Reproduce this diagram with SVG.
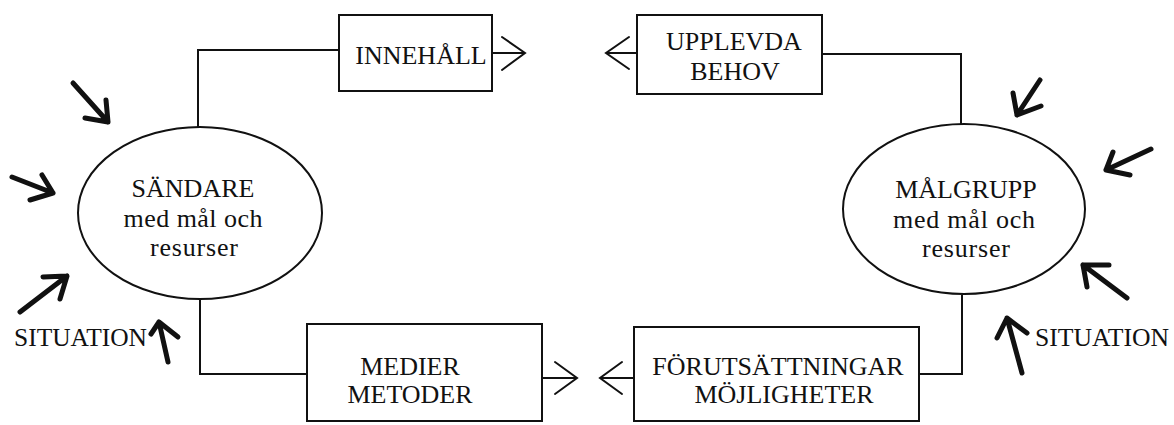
<svg xmlns="http://www.w3.org/2000/svg" width="1174" height="425" viewBox="0 0 1174 425">
<style>
.box{fill:#fff;stroke:#111;stroke-width:2}
.el{fill:#fff;stroke:#111;stroke-width:2}
.con{fill:none;stroke:#111;stroke-width:2}
.chev{fill:none;stroke:#111;stroke-width:2;stroke-linecap:round;stroke-linejoin:miter}
.big{fill:none;stroke:#111;stroke-width:5;stroke-linecap:round;stroke-linejoin:round}
text{font-family:"Liberation Serif","Times New Roman",serif;font-size:26px;fill:#111}
.m{text-anchor:middle}
</style>
<rect width="1174" height="425" fill="#fff"/>
<g id="connectors">
<path class="con" d="M198,128 V50 H339"/>
<path class="con" d="M822,54 H961 V124"/>
<path class="con" d="M200,299 V374 H307"/>
<path class="con" d="M962,295 V374 H919"/>
<path class="con" d="M492,53 H524"/>
<path class="chev" d="M502,37 L525,53 L502,70"/>
<path class="con" d="M637,53 H607"/>
<path class="chev" d="M629,37 L606,53 L629,69"/>
<path class="con" d="M542,378 H576"/>
<path class="chev" d="M555,362 L577,378 L555,394"/>
<path class="con" d="M634,378 H601"/>
<path class="chev" d="M622,362 L600,378 L622,394"/>
</g>
<g id="influences">
<path class="big" d="M73,83 L108,122 M106,100 L108,122 L85,118"/>
<path class="big" d="M12,177 L53,193 M42,175 L53,193 L30,200"/>
<path class="big" d="M20,312 L67,276 M43,277 L67,276 L60,299"/>
<path class="big" d="M168,362 L159,322 M151,334 L159,322 L178,337"/>
<path class="big" d="M1040,80 L1017,115 M1013,93 L1017,115 L1041,106"/>
<path class="big" d="M1151,149 L1106,170 M1113,152 L1106,170 L1130,175"/>
<path class="big" d="M1127,298 L1083,265 M1087,287 L1083,265 L1109,265"/>
<path class="big" d="M1022,373 L1007,318 M997,338 L1007,318 L1027,333"/>
</g>
<g id="sandare">
<ellipse class="el" cx="200" cy="213" rx="122" ry="86"/>
<text class="m" x="193" y="197">SÄNDARE</text>
<text class="m" x="193" y="227" textLength="139">med mål och</text>
<text class="m" x="194" y="256" textLength="88">resurser</text>
</g>
<g id="malgrupp">
<ellipse class="el" cx="964" cy="209" rx="121" ry="85"/>
<text class="m" x="966" y="198">MÅLGRUPP</text>
<text class="m" x="964" y="228" textLength="142">med mål och</text>
<text class="m" x="966" y="257" textLength="88">resurser</text>
</g>
<g id="innehall">
<rect class="box" x="339" y="15" width="153" height="76"/>
<text class="m" x="421" y="64">INNEHÅLL</text>
</g>
<g id="upplevda">
<rect class="box" x="637" y="15" width="185" height="79"/>
<text class="m" x="734" y="50">UPPLEVDA</text>
<text class="m" x="735" y="80">BEHOV</text>
</g>
<g id="medier">
<rect class="box" x="307" y="324" width="235" height="97"/>
<text class="m" x="410" y="375">MEDIER</text>
<text class="m" x="410" y="403">METODER</text>
</g>
<g id="forutsattningar">
<rect class="box" x="634" y="327" width="285" height="94"/>
<text class="m" x="778" y="375">FÖRUTSÄTTNINGAR</text>
<text class="m" x="784" y="403">MÖJLIGHETER</text>
</g>
<g id="situation-left">
<text x="14" y="346" textLength="133" lengthAdjust="spacingAndGlyphs">SITUATION</text>
</g>
<g id="situation-right">
<text x="1035" y="346" textLength="134" lengthAdjust="spacingAndGlyphs">SITUATION</text>
</g>
</svg>
